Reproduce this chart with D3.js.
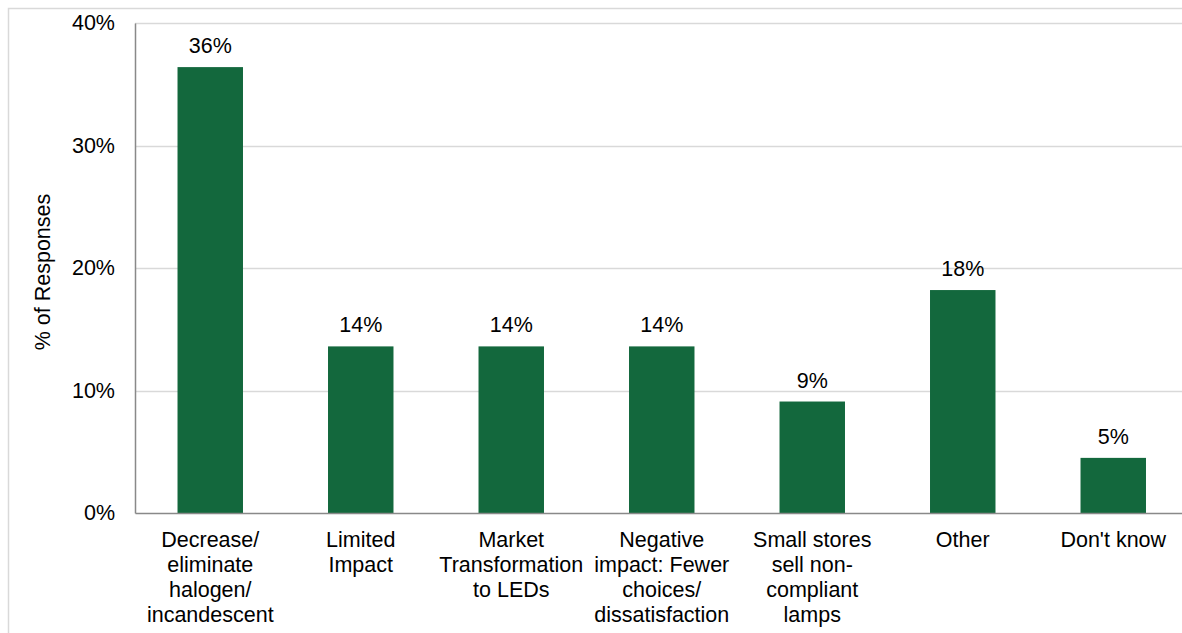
<!DOCTYPE html>
<html>
<head>
<meta charset="utf-8">
<script src="https://cdn.jsdelivr.net/npm/d3@7"></script>
<style>
  html, body { margin: 0; padding: 0; background: #fff; overflow: hidden; }
  svg { display: block; font-family: "Liberation Sans", Arial, sans-serif; }
</style>
</head>
<body>
<div id="chart"></div>
<script>
const categories = [
  ["Decrease/", "eliminate", "halogen/", "incandescent"],
  ["Limited", "Impact"],
  ["Market", "Transformation", "to LEDs"],
  ["Negative", "impact: Fewer", "choices/", "dissatisfaction"],
  ["Small stores", "sell non-", "compliant", "lamps"],
  ["Other"],
  ["Don't know"]
];
const values = [36.4, 13.6, 13.6, 13.6, 9.1, 18.2, 4.5];
const yTicks = [0, 10, 20, 30, 40];

const width = 1182, height = 633;
const margin = { top: 23, left: 135, bottom: 120 };
const plotW = 1053.5;
const plotH = height - margin.top - margin.bottom;
const fontSize = '21.5px';

const svg = d3.select('#chart').append('svg')
  .attr('width', width)
  .attr('height', height);

// outer frame
svg.append('path')
  .attr('d', `M8.5,${height} V8.5 H${width}`)
  .attr('fill', 'none')
  .attr('stroke', '#d9d9d9')
  .attr('stroke-width', 1.5);

const g = svg.append('g')
  .attr('transform', `translate(${margin.left},${margin.top})`);

const x = d3.scaleBand()
  .domain(d3.range(categories.length))
  .range([0, plotW])
  .paddingInner(0.565)
  .paddingOuter(0.2825);

const y = d3.scaleLinear()
  .domain([0, 40])
  .range([plotH, 0]);

// gridlines
g.append('g')
  .selectAll('line')
  .data(yTicks.filter(d => d > 0))
  .join('line')
  .attr('x1', 0)
  .attr('x2', plotW)
  .attr('y1', d => Math.round(y(d)) + 0.5)
  .attr('y2', d => Math.round(y(d)) + 0.5)
  .attr('stroke', '#d9d9d9')
  .attr('stroke-width', 1.5);

// bars
g.append('g')
  .selectAll('rect')
  .data(values)
  .join('rect')
  .attr('x', (d, i) => x(i))
  .attr('y', d => y(d))
  .attr('width', x.bandwidth())
  .attr('height', d => y(0) - y(d))
  .attr('fill', '#13683d');

// value labels
g.append('g')
  .selectAll('text')
  .data(values)
  .join('text')
  .attr('x', (d, i) => x(i) + x.bandwidth() / 2)
  .attr('y', d => y(d) - 14)
  .attr('text-anchor', 'middle')
  .attr('font-size', fontSize)
  .attr('fill', '#000')
  .text(d => Math.round(d) + '%');

// y axis
const yAxis = g.append('g')
  .call(d3.axisLeft(y).tickValues(yTicks).tickSize(0).tickPadding(20).tickFormat(d => d + '%'));
yAxis.select('.domain').attr('stroke', '#898989').attr('stroke-width', 1.5);
yAxis.selectAll('text').attr('font-size', fontSize).attr('fill', '#000')
  .attr('font-family', '"Liberation Sans", Arial, sans-serif');

// x axis
const xAxis = g.append('g')
  .attr('transform', `translate(0,${plotH})`)
  .call(d3.axisBottom(x).tickSize(0).tickFormat(''));
xAxis.select('.domain').attr('stroke', '#898989').attr('stroke-width', 1.5);

xAxis.selectAll('.tick text').remove();
xAxis.selectAll('.tick')
  .append('text')
  .attr('text-anchor', 'middle')
  .attr('font-size', fontSize)
  .attr('fill', '#000')
  .attr('font-family', '"Liberation Sans", Arial, sans-serif')
  .selectAll('tspan')
  .data(i => categories[i])
  .join('tspan')
  .attr('x', 0)
  .attr('y', (d, j) => 34 + j * 25)
  .text(d => d);

// y axis title
svg.append('text')
  .attr('transform', `translate(50,272) rotate(-90)`)
  .attr('text-anchor', 'middle')
  .attr('font-size', fontSize)
  .attr('fill', '#000')
  .text('% of Responses');
</script>
</body>
</html>
